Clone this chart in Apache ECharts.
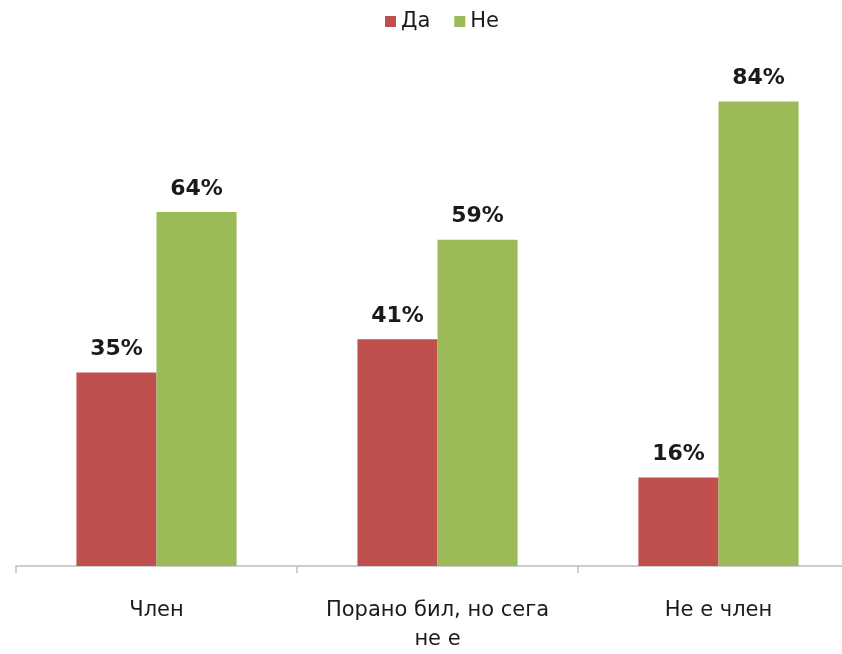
<!DOCTYPE html>
<html>
<head>
<meta charset="utf-8">
<script src="https://cdn.jsdelivr.net/npm/echarts@6/dist/echarts.min.js"></script>
<style>
  html, body { margin: 0; padding: 0; background: #fff; overflow: hidden; }
  #chart { width: 859px; height: 654px; }
</style>
</head>
<body>
<div id="chart"></div>
<script>
// ── Data ──────────────────────────────────────────────────────────────────
const categories = ['Член', 'Порано бил, но сега\nне е', 'Не е член']
const seriesNames = ['Да', 'Не']
const daValues = [35, 41, 16]
const neValues = [64, 59, 84]

const FONT = '"DejaVu Sans", "Liberation Sans", Arial, sans-serif'

// ── Chart ─────────────────────────────────────────────────────────────────
// the plot runs a little past the right edge of the window, as in the source
const chart = echarts.init(document.getElementById('chart'))

const labelStyle = {
  show: true,
  position: 'top',
  distance: 12,
  formatter: '{c}%',
  color: '#1a1a1a',
  fontSize: 22,
  fontWeight: 'bold',
  fontFamily: FONT
}

chart.setOption({
  animation: false,
  legend: {
    data: seriesNames,
    left: 380,
    top: 6,
    itemWidth: 11,
    itemHeight: 11,
    itemGap: 24,
    icon: 'rect',
    textStyle: { fontSize: 21, color: '#1a1a1a', fontFamily: FONT }
  },
  grid: { left: 16, right: 0, top: 13, bottom: 84 },
  xAxis: {
    type: 'category',
    data: categories,
    axisLine: { lineStyle: { color: '#bfbfbf', width: 1.5 } },
    axisTick: { show: true, length: 7, lineStyle: { color: '#bfbfbf', width: 1.5 } },
    axisLabel: {
      margin: 30,
      fontSize: 21,
      lineHeight: 29,
      color: '#1a1a1a',
      fontFamily: FONT,
      interval: 0
    }
  },
  yAxis: {
    type: 'value',
    min: 0,
    max: 100,
    show: false,
    splitLine: { show: false }
  },
  series: [
    {
      name: seriesNames[0],
      type: 'bar',
      data: daValues,
      barGap: '0%',
      barCategoryGap: '43%',
      itemStyle: { color: '#c0504d' },
      label: labelStyle
    },
    {
      name: seriesNames[1],
      type: 'bar',
      data: neValues,
      barGap: '0%',
      barCategoryGap: '43%',
      itemStyle: { color: '#9bbb59' },
      label: labelStyle
    }
  ]
})
</script>
</body>
</html>
